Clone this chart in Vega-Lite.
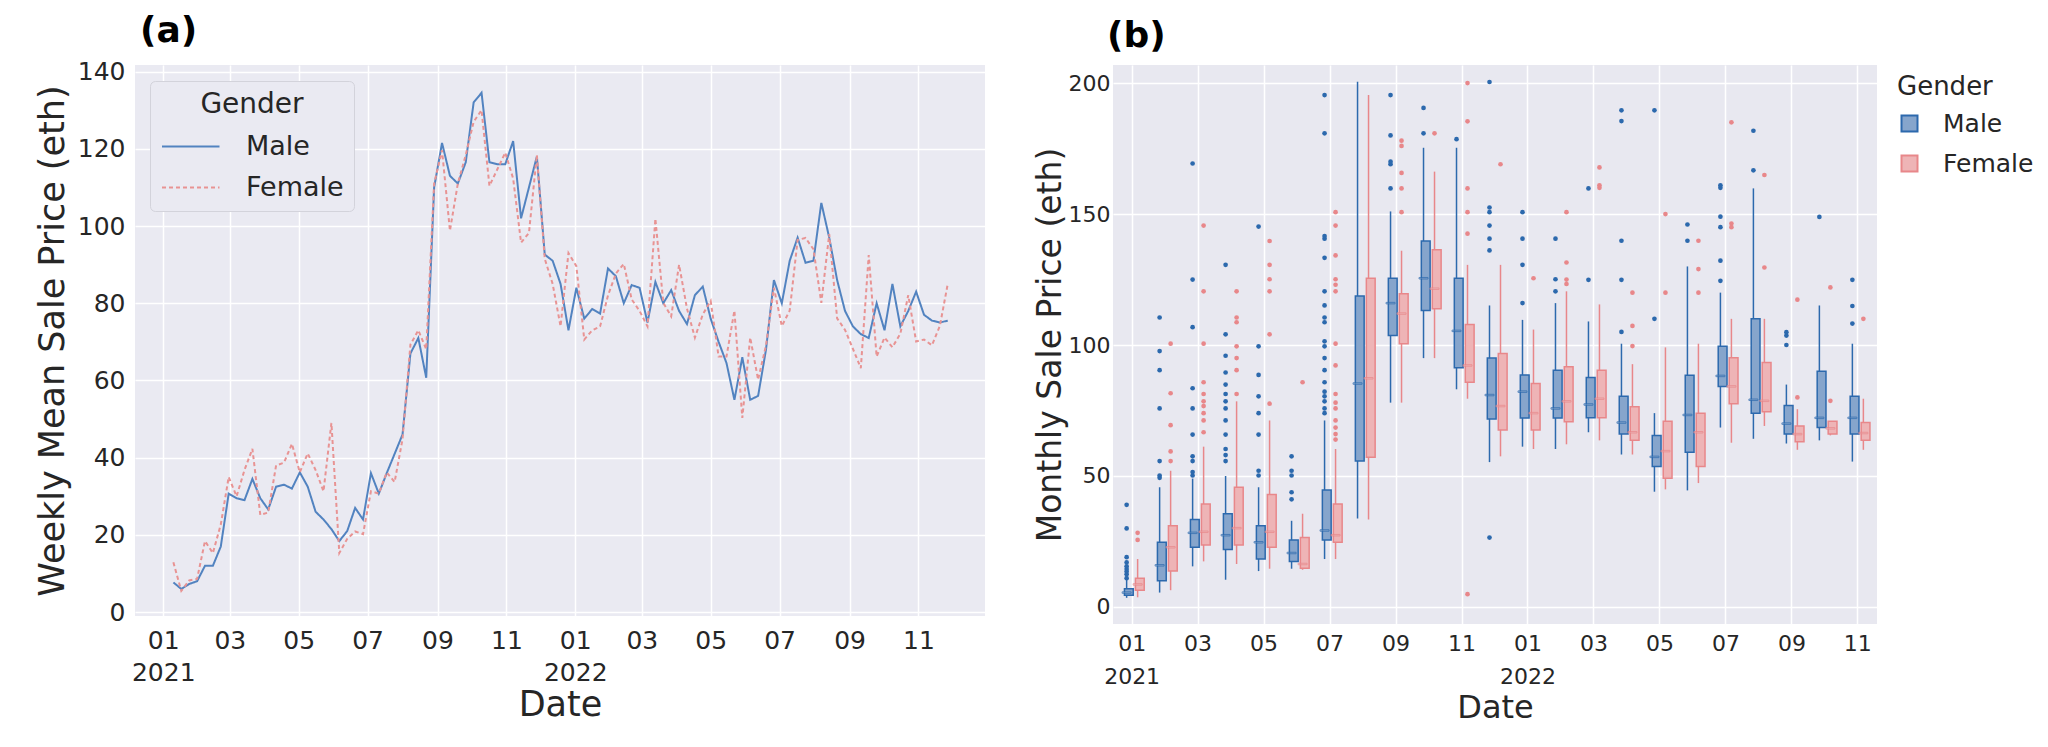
{
  "$schema": "https://vega.github.io/schema/vega-lite/v6.json",
  "background": "white",
  "padding": {"left": 35, "top": 12, "right": 0, "bottom": 16},
  "config": {
    "font": "DejaVu Sans",
    "view": {"stroke": null},
    "axis": {"domain": false, "ticks": false, "tickSize": 0, "gridColor": "white", "gridWidth": 1.5, "labelColor": "#262626", "titleColor": "#262626", "titleFontWeight": "normal"},
    "title": {"color": "black"}
  },
  "datasets": {
    "weekly": [
      {"date":"2021-01-10","Male":7.7,"Female":12.9},
      {"date":"2021-01-17","Male":6,"Female":5.5},
      {"date":"2021-01-24","Male":7.3,"Female":8.2},
      {"date":"2021-01-31","Male":8,"Female":8.6},
      {"date":"2021-02-07","Male":12,"Female":18.4},
      {"date":"2021-02-14","Male":12,"Female":15.3},
      {"date":"2021-02-21","Male":17,"Female":22.7},
      {"date":"2021-02-28","Male":30.7,"Female":35},
      {"date":"2021-03-07","Male":29.5,"Female":30},
      {"date":"2021-03-14","Male":29,"Female":36.8},
      {"date":"2021-03-21","Male":34.5,"Female":42.3},
      {"date":"2021-03-28","Male":29.5,"Female":25.2},
      {"date":"2021-04-04","Male":26.6,"Female":25.8},
      {"date":"2021-04-11","Male":32.5,"Female":38},
      {"date":"2021-04-18","Male":33,"Female":38.7},
      {"date":"2021-04-25","Male":32,"Female":43.6},
      {"date":"2021-05-02","Male":36.2,"Female":36.2},
      {"date":"2021-05-09","Male":32.5,"Female":41.1},
      {"date":"2021-05-16","Male":26,"Female":36.8},
      {"date":"2021-05-23","Male":24,"Female":31.3},
      {"date":"2021-05-30","Male":21.5,"Female":49},
      {"date":"2021-06-06","Male":18.4,"Female":15.3},
      {"date":"2021-06-13","Male":21,"Female":19},
      {"date":"2021-06-20","Male":27,"Female":20.9},
      {"date":"2021-06-27","Male":24,"Female":20.2},
      {"date":"2021-07-04","Male":36,"Female":31.3},
      {"date":"2021-07-11","Male":30.7,"Female":30.7},
      {"date":"2021-07-18","Male":36,"Female":36.2},
      {"date":"2021-07-25","Male":41,"Female":33.7},
      {"date":"2021-08-01","Male":46,"Female":44.8},
      {"date":"2021-08-08","Male":67,"Female":69.3},
      {"date":"2021-08-15","Male":71,"Female":73},
      {"date":"2021-08-22","Male":60.7,"Female":68.1},
      {"date":"2021-08-29","Male":110,"Female":111},
      {"date":"2021-09-05","Male":121.5,"Female":119.6},
      {"date":"2021-09-12","Male":113,"Female":98.8},
      {"date":"2021-09-19","Male":111,"Female":111},
      {"date":"2021-09-26","Male":116.5,"Female":118.4},
      {"date":"2021-10-03","Male":132,"Female":127},
      {"date":"2021-10-10","Male":134.5,"Female":130},
      {"date":"2021-10-17","Male":116.5,"Female":110.4},
      {"date":"2021-10-24","Male":116,"Female":114.7},
      {"date":"2021-10-31","Male":116,"Female":119},
      {"date":"2021-11-07","Male":122,"Female":112.3},
      {"date":"2021-11-14","Male":102,"Female":95.7},
      {"date":"2021-11-21","Male":110,"Female":98.2},
      {"date":"2021-11-28","Male":118,"Female":118.4},
      {"date":"2021-12-05","Male":92.6,"Female":91.5},
      {"date":"2021-12-12","Male":91,"Female":85},
      {"date":"2021-12-19","Male":85,"Female":74},
      {"date":"2021-12-26","Male":73,"Female":93},
      {"date":"2022-01-02","Male":84,"Female":89.6},
      {"date":"2022-01-09","Male":76,"Female":70.6},
      {"date":"2022-01-16","Male":78.5,"Female":73},
      {"date":"2022-01-23","Male":77.3,"Female":74},
      {"date":"2022-01-30","Male":89,"Female":82},
      {"date":"2022-02-06","Male":87,"Female":87.7},
      {"date":"2022-02-13","Male":80,"Female":90.2},
      {"date":"2022-02-20","Male":84.7,"Female":81},
      {"date":"2022-02-27","Male":84,"Female":78},
      {"date":"2022-03-06","Male":75,"Female":74},
      {"date":"2022-03-13","Male":85.5,"Female":101.9},
      {"date":"2022-03-20","Male":80,"Female":80.1},
      {"date":"2022-03-27","Male":83.4,"Female":76.6},
      {"date":"2022-04-03","Male":78,"Female":90},
      {"date":"2022-04-10","Male":74.6,"Female":78.6},
      {"date":"2022-04-17","Male":82.1,"Female":71.1},
      {"date":"2022-04-24","Male":84.3,"Female":77.1},
      {"date":"2022-05-01","Male":76,"Female":80.6},
      {"date":"2022-05-08","Male":70,"Female":66.2},
      {"date":"2022-05-15","Male":64.5,"Female":66.2},
      {"date":"2022-05-22","Male":55,"Female":78.1},
      {"date":"2022-05-29","Male":66,"Female":50.3},
      {"date":"2022-06-05","Male":55,"Female":71.1},
      {"date":"2022-06-12","Male":56,"Female":60.2},
      {"date":"2022-06-19","Male":68,"Female":69.1},
      {"date":"2022-06-26","Male":86,"Female":84},
      {"date":"2022-07-03","Male":80,"Female":74.1},
      {"date":"2022-07-10","Male":91,"Female":78.1},
      {"date":"2022-07-17","Male":97,"Female":96.4},
      {"date":"2022-07-24","Male":90.5,"Female":96.9},
      {"date":"2022-07-31","Male":91,"Female":94},
      {"date":"2022-08-07","Male":106,"Female":80.1},
      {"date":"2022-08-14","Male":97,"Female":97.9},
      {"date":"2022-08-21","Male":86,"Female":76.1},
      {"date":"2022-08-28","Male":78,"Female":73.1},
      {"date":"2022-09-04","Male":74,"Female":68.2},
      {"date":"2022-09-11","Male":72,"Female":63.2},
      {"date":"2022-09-18","Male":71,"Female":92.5},
      {"date":"2022-09-25","Male":80,"Female":66.2},
      {"date":"2022-10-02","Male":73,"Female":71.1},
      {"date":"2022-10-09","Male":85,"Female":68.6},
      {"date":"2022-10-16","Male":74,"Female":72.1},
      {"date":"2022-10-23","Male":78,"Female":82.1},
      {"date":"2022-10-30","Male":83,"Female":70.1},
      {"date":"2022-11-06","Male":77,"Female":70.6},
      {"date":"2022-11-13","Male":75.5,"Female":69.1},
      {"date":"2022-11-20","Male":75,"Female":74.1},
      {"date":"2022-11-27","Male":75.5,"Female":85}
    ],
    "boxes": [
      {"month":"2021-01","gender":"Male","lo":3.5,"q1":4.5,"med":5.5,"q3":7,"hi":10.5},
      {"month":"2021-01","gender":"Female","lo":3.7,"q1":6.4,"med":8.6,"q3":11,"hi":18.3},
      {"month":"2021-02","gender":"Male","lo":5.5,"q1":10,"med":15.9,"q3":24.7,"hi":45.7},
      {"month":"2021-02","gender":"Female","lo":6.4,"q1":13.7,"med":22.8,"q3":31,"hi":52},
      {"month":"2021-03","gender":"Male","lo":15.5,"q1":22.8,"med":28.3,"q3":33.4,"hi":49},
      {"month":"2021-03","gender":"Female","lo":17.4,"q1":23.7,"med":28.7,"q3":39.3,"hi":61.2},
      {"month":"2021-04","gender":"Male","lo":10.4,"q1":21.9,"med":27.4,"q3":35.6,"hi":50},
      {"month":"2021-04","gender":"Female","lo":16.4,"q1":23.7,"med":30.1,"q3":45.7,"hi":78.5},
      {"month":"2021-05","gender":"Male","lo":13.7,"q1":18.3,"med":24.7,"q3":31,"hi":45.7},
      {"month":"2021-05","gender":"Female","lo":14.6,"q1":22.8,"med":28.7,"q3":42.9,"hi":71.2},
      {"month":"2021-06","gender":"Male","lo":14.6,"q1":17.4,"med":20.6,"q3":25.6,"hi":32.9},
      {"month":"2021-06","gender":"Female","lo":14.2,"q1":14.8,"med":16.4,"q3":26.5,"hi":35.6},
      {"month":"2021-07","gender":"Male","lo":18.3,"q1":25.6,"med":29.2,"q3":44.7,"hi":71.2},
      {"month":"2021-07","gender":"Female","lo":18.3,"q1":24.7,"med":27.4,"q3":39.3,"hi":60.3},
      {"month":"2021-08","gender":"Male","lo":33.8,"q1":55.7,"med":85.3,"q3":118.7,"hi":200.5},
      {"month":"2021-08","gender":"Female","lo":33.4,"q1":57.2,"med":87.3,"q3":125.5,"hi":195.4},
      {"month":"2021-09","gender":"Male","lo":78,"q1":103.6,"med":116,"q3":125.5,"hi":151},
      {"month":"2021-09","gender":"Female","lo":78,"q1":100.5,"med":112,"q3":119.6,"hi":136},
      {"month":"2021-10","gender":"Male","lo":95,"q1":113.2,"med":125.5,"q3":139.7,"hi":175.3},
      {"month":"2021-10","gender":"Female","lo":95,"q1":113.8,"med":121.5,"q3":136.4,"hi":166.2},
      {"month":"2021-11","gender":"Male","lo":83.1,"q1":91.3,"med":105.4,"q3":125.5,"hi":175.3},
      {"month":"2021-11","gender":"Female","lo":79.5,"q1":85.8,"med":92.2,"q3":107.8,"hi":130.6},
      {"month":"2021-12","gender":"Male","lo":55.3,"q1":71.8,"med":80.9,"q3":95,"hi":115.1},
      {"month":"2021-12","gender":"Female","lo":57.5,"q1":67.6,"med":76.7,"q3":96.8,"hi":130.6},
      {"month":"2022-01","gender":"Male","lo":61.2,"q1":72.1,"med":82.2,"q3":88.6,"hi":109.6},
      {"month":"2022-01","gender":"Female","lo":60.3,"q1":67.6,"med":74,"q3":85.3,"hi":105.9},
      {"month":"2022-02","gender":"Male","lo":60.3,"q1":72.1,"med":75.8,"q3":90.4,"hi":116},
      {"month":"2022-02","gender":"Female","lo":62.1,"q1":70.7,"med":78.5,"q3":91.7,"hi":120.5},
      {"month":"2022-03","gender":"Male","lo":66.7,"q1":72.2,"med":77.3,"q3":87.6,"hi":109},
      {"month":"2022-03","gender":"Female","lo":63.6,"q1":72.2,"med":79.5,"q3":90.4,"hi":115.5},
      {"month":"2022-04","gender":"Male","lo":58.2,"q1":66,"med":70.4,"q3":80.4,"hi":100.5},
      {"month":"2022-04","gender":"Female","lo":58.2,"q1":63.6,"med":66.7,"q3":76.4,"hi":92.7},
      {"month":"2022-05","gender":"Male","lo":44,"q1":53.6,"med":57.3,"q3":65.5,"hi":74},
      {"month":"2022-05","gender":"Female","lo":44.9,"q1":49.1,"med":59.5,"q3":70.9,"hi":99.1},
      {"month":"2022-06","gender":"Male","lo":44.5,"q1":59.1,"med":73.3,"q3":88.5,"hi":130},
      {"month":"2022-06","gender":"Female","lo":47.3,"q1":53.6,"med":66.7,"q3":74,"hi":100.5},
      {"month":"2022-07","gender":"Male","lo":68.5,"q1":84.2,"med":88.2,"q3":99.5,"hi":120},
      {"month":"2022-07","gender":"Female","lo":62.7,"q1":77.6,"med":84.2,"q3":95.1,"hi":110},
      {"month":"2022-08","gender":"Male","lo":64.2,"q1":74,"med":79.1,"q3":110,"hi":159.8},
      {"month":"2022-08","gender":"Female","lo":69.1,"q1":74.5,"med":78.7,"q3":93.3,"hi":110},
      {"month":"2022-09","gender":"Male","lo":62.4,"q1":66,"med":70,"q3":76.9,"hi":84.9},
      {"month":"2022-09","gender":"Female","lo":60,"q1":63.1,"med":66,"q3":69.1,"hi":75.5},
      {"month":"2022-10","gender":"Male","lo":63.6,"q1":68.5,"med":72.2,"q3":90,"hi":115.1},
      {"month":"2022-10","gender":"Female","lo":65.5,"q1":66,"med":68.2,"q3":70.9,"hi":71},
      {"month":"2022-11","gender":"Male","lo":55.5,"q1":66,"med":72.2,"q3":80.4,"hi":100.5},
      {"month":"2022-11","gender":"Female","lo":60,"q1":63.6,"med":66.4,"q3":70.4,"hi":79.5}
    ],
    "outliers": [
      {"month":"2021-01","gender":"Male","v":[11,12.5,13.5,14.5,15.5,17,19,30,39]},
      {"month":"2021-01","gender":"Female","v":[25.6,28.3]},
      {"month":"2021-02","gender":"Male","v":[49.3,50.2,55.7,75.8,90.4,97.7,110.5]},
      {"month":"2021-02","gender":"Female","v":[55.7,59.4,69.4,81.6,100.5]},
      {"month":"2021-03","gender":"Male","v":[50.2,51.5,55.7,57.5,65.8,75.8,83.5,106.8,125,169.3]},
      {"month":"2021-03","gender":"Female","v":[66.7,71.2,74,76.7,78.5,81.3,85.8,100.5,120.5,145.6]},
      {"month":"2021-04","gender":"Male","v":[55.7,58,60.3,65.8,71.2,75.8,78.5,81.3,84.9,89.5,95.9,104.1,130.6]},
      {"month":"2021-04","gender":"Female","v":[81.3,90.4,95,99.5,108.7,110.5,120.5]},
      {"month":"2021-05","gender":"Male","v":[50.2,52,65.8,74,80.4,88.6,99.5,145.2]},
      {"month":"2021-05","gender":"Female","v":[77.6,104.1,120.5,125.1,130.6,139.7]},
      {"month":"2021-06","gender":"Male","v":[41.1,43.8,50.2,52,57.5]},
      {"month":"2021-06","gender":"Female","v":[85.8]},
      {"month":"2021-07","gender":"Male","v":[74,75.8,78.5,80.4,82.2,85.8,90.4,95,99.5,101.4,108.7,110.5,115.1,120.5,133.3,140.6,141.6,180.8,195.4]},
      {"month":"2021-07","gender":"Female","v":[63.9,66,68.5,71.2,75.8,78,81.3,92.2,100.5,120.5,123,125.1,134.2,145.6,150.7]},
      {"month":"2021-09","gender":"Male","v":[159.8,169,170,180,195.4]},
      {"month":"2021-09","gender":"Female","v":[150.7,159.8,165.7,176,178]},
      {"month":"2021-10","gender":"Male","v":[180.8,190.5]},
      {"month":"2021-10","gender":"Female","v":[180.8]},
      {"month":"2021-11","gender":"Male","v":[178.6]},
      {"month":"2021-11","gender":"Female","v":[4.9,142.5,150.7,159.8,185.4,200]},
      {"month":"2021-12","gender":"Male","v":[26.5,136.1,140.6,145.6,150.7,152.5,200.4]},
      {"month":"2021-12","gender":"Female","v":[169]},
      {"month":"2022-01","gender":"Male","v":[116,130.6,140.6,150.7]},
      {"month":"2022-01","gender":"Female","v":[125.5]},
      {"month":"2022-02","gender":"Male","v":[120.5,125.1,140.6]},
      {"month":"2022-02","gender":"Female","v":[123.3,125,131.5,150.7]},
      {"month":"2022-03","gender":"Male","v":[124.9,159.8]},
      {"month":"2022-03","gender":"Female","v":[160,161,167.8]},
      {"month":"2022-04","gender":"Male","v":[105,124.9,139.8,185.5,189.6]},
      {"month":"2022-04","gender":"Female","v":[99.6,107.3,120]},
      {"month":"2022-05","gender":"Male","v":[110,189.6]},
      {"month":"2022-05","gender":"Female","v":[120,150]},
      {"month":"2022-06","gender":"Male","v":[139.8,146]},
      {"month":"2022-06","gender":"Female","v":[120,129,139.8]},
      {"month":"2022-07","gender":"Male","v":[124.5,132.2,145,149,160,161]},
      {"month":"2022-07","gender":"Female","v":[145,146.4,185]},
      {"month":"2022-08","gender":"Male","v":[166.7,181.8]},
      {"month":"2022-08","gender":"Female","v":[129.6,164.9]},
      {"month":"2022-09","gender":"Male","v":[100,103.6,104.9]},
      {"month":"2022-09","gender":"Female","v":[80,117.3]},
      {"month":"2022-10","gender":"Male","v":[148.9]},
      {"month":"2022-10","gender":"Female","v":[78.7,122]},
      {"month":"2022-11","gender":"Male","v":[108.2,114.9,124.9]},
      {"month":"2022-11","gender":"Female","v":[110]}
    ]
  },
  "spacing": 49,
  "resolve": {
    "scale": {"x": "independent", "y": "independent", "color": "independent", "strokeDash": "independent", "fill": "independent", "stroke": "independent"},
    "legend": {"color": "independent", "strokeDash": "independent", "fill": "independent", "stroke": "independent"}
  },
  "hconcat": [
    {
      "width": 850,
      "height": 551,
      "view": {"fill": "#eaeaf2", "stroke": null},
      "title": {"text": "(a)", "anchor": "start", "frame": "group", "fontSize": 36, "fontWeight": "bold", "dx": 5, "offset": 10, "color": "black"},
      "data": {"name": "weekly"},
      "transform": [{"fold": ["Male", "Female"], "as": ["gender", "price"]}],
      "mark": {"type": "line", "strokeWidth": 2, "clip": true},
      "encoding": {
        "x": {
          "field": "date", "type": "temporal",
          "scale": {"type": "utc", "domain": [{"year": 2020, "month": 12, "date": 7, "utc": true}, {"year": 2022, "month": 12, "date": 30, "utc": true}]},
          "axis": {
            "title": "Date", "titleFontSize": 35, "titlePadding": 2,
            "labelFontSize": 25, "labelPadding": 12, "labelLineHeight": 32, "labelAngle": 0,
            "grid": true,
            "values": [
              {"year": 2021, "month": 1, "date": 1, "utc": true},
              {"year": 2021, "month": 3, "date": 1, "utc": true},
              {"year": 2021, "month": 5, "date": 1, "utc": true},
              {"year": 2021, "month": 7, "date": 1, "utc": true},
              {"year": 2021, "month": 9, "date": 1, "utc": true},
              {"year": 2021, "month": 11, "date": 1, "utc": true},
              {"year": 2022, "month": 1, "date": 1, "utc": true},
              {"year": 2022, "month": 3, "date": 1, "utc": true},
              {"year": 2022, "month": 5, "date": 1, "utc": true},
              {"year": 2022, "month": 7, "date": 1, "utc": true},
              {"year": 2022, "month": 9, "date": 1, "utc": true},
              {"year": 2022, "month": 11, "date": 1, "utc": true}
            ],
            "labelExpr": "utcmonth(datum.value) == 0 ? [utcFormat(datum.value, '%m'), utcFormat(datum.value, '%Y')] : utcFormat(datum.value, '%m')"
          }
        },
        "y": {
          "field": "price", "type": "quantitative",
          "scale": {"domain": [-1, 141.7], "nice": false, "zero": false},
          "axis": {"title": "Weekly Mean Sale Price (eth)", "titleFontSize": 35, "titlePadding": 7, "labelFontSize": 25, "labelPadding": 10, "values": [0, 20, 40, 60, 80, 100, 120, 140]}
        },
        "color": {
          "field": "gender", "type": "nominal",
          "scale": {"domain": ["Male", "Female"], "range": ["#5283c0", "#e89393"]},
          "legend": {
            "orient": "none", "legendX": 15, "legendY": 16, "title": "Gender",
            "titleFontSize": 28, "titleFontWeight": "normal", "titleAnchor": "middle", "titlePadding": 14,
            "labelFontSize": 27, "symbolType": "M-1,0H4", "symbolSize": 529, "symbolStrokeWidth": 2,
            "labelOffset": 59, "rowPadding": 13, "padding": 10,
            "fillColor": "#eaeaf2", "strokeColor": "#d3d3db", "cornerRadius": 5,
            "labelColor": "#262626", "titleColor": "#262626"
          }
        },
        "strokeDash": {
          "field": "gender", "type": "nominal",
          "scale": {"domain": ["Male", "Female"], "range": [[1, 0], [4, 3]]},
          "legend": {
            "orient": "none", "legendX": 15, "legendY": 16, "title": "Gender",
            "titleFontSize": 28, "titleFontWeight": "normal", "titleAnchor": "middle", "titlePadding": 14,
            "labelFontSize": 27, "symbolType": "M-1,0H4", "symbolSize": 529, "symbolStrokeWidth": 2,
            "labelOffset": 59, "rowPadding": 13, "padding": 10,
            "fillColor": "#eaeaf2", "strokeColor": "#d3d3db", "cornerRadius": 5,
            "labelColor": "#262626", "titleColor": "#262626"
          }
        },
        "strokeWidth": {
          "field": "gender", "type": "nominal",
          "scale": {"domain": ["Male", "Female"], "range": [2, 1.6]},
          "legend": null
        }
      }
    },
    {
      "width": 764,
      "height": 559,
      "view": {"fill": "#e8e8f0", "stroke": null},
      "title": {"text": "(b)", "anchor": "start", "frame": "group", "fontSize": 36, "fontWeight": "bold", "dx": -6, "offset": 10, "color": "black"},
      "encoding": {
        "x": {
          "field": "month", "type": "ordinal",
          "scale": {"type": "band", "domain": ["2021-01","2021-02","2021-03","2021-04","2021-05","2021-06","2021-07","2021-08","2021-09","2021-10","2021-11","2021-12","2022-01","2022-02","2022-03","2022-04","2022-05","2022-06","2022-07","2022-08","2022-09","2022-10","2022-11"], "paddingInner": 0, "paddingOuter": 0.08},
          "axis": {
            "title": "Date", "titleFontSize": 32, "titlePadding": 5,
            "labelFontSize": 22, "labelPadding": 9, "labelLineHeight": 33, "labelAngle": 0,
            "grid": true, "bandPosition": 0.5,
            "values": ["2021-01","2021-03","2021-05","2021-07","2021-09","2021-11","2022-01","2022-03","2022-05","2022-07","2022-09","2022-11"],
            "labelExpr": "substring(datum.value, 5, 7) == '01' ? [substring(datum.value, 5, 7), substring(datum.value, 0, 4)] : substring(datum.value, 5, 7)"
          }
        },
        "xOffset": {"field": "gender", "type": "nominal", "scale": {"domain": ["Male", "Female"], "paddingInner": 0, "paddingOuter": 0.5}}
      },
      "layer": [
        {
          "data": {"name": "boxes"},
          "mark": {"type": "rule", "strokeWidth": 1.5},
          "encoding": {
            "y": {
              "field": "lo", "type": "quantitative",
              "scale": {"domain": [-6.5, 206.9], "nice": false, "zero": false},
              "axis": {"title": "Monthly Sale Price (eth)", "titleFontSize": 33, "titlePadding": 1, "labelFontSize": 22, "labelPadding": 3, "values": [0, 50, 100, 150, 200]}
            },
            "y2": {"field": "hi"},
            "stroke": {"field": "gender", "type": "nominal", "scale": {"domain": ["Male", "Female"], "range": ["#2c69ad", "#e8878a"]},
              "legend": {"orient": "none", "legendX": 784, "legendY": 9, "title": "Gender", "titleFontSize": 26, "titleFontWeight": "normal", "titlePadding": 11, "labelFontSize": 25, "symbolType": "square", "symbolSize": 256, "symbolStrokeWidth": 2, "symbolOffset": 0, "labelOffset": 21, "rowPadding": 14, "padding": 0, "labelColor": "#262626", "titleColor": "#262626"}}
          }
        },
        {
          "data": {"name": "boxes"},
          "mark": {"type": "bar", "strokeWidth": 1.5, "width": {"band": 0.8}},
          "encoding": {
            "y": {"field": "q1", "type": "quantitative"},
            "y2": {"field": "q3"},
            "fill": {"field": "gender", "type": "nominal", "scale": {"domain": ["Male", "Female"], "range": ["#86a5cc", "#eeb4b6"]},
              "legend": {"orient": "none", "legendX": 784, "legendY": 9, "title": "Gender", "titleFontSize": 26, "titleFontWeight": "normal", "titlePadding": 11, "labelFontSize": 25, "symbolType": "square", "symbolSize": 256, "symbolStrokeWidth": 2, "symbolOffset": 0, "labelOffset": 21, "rowPadding": 14, "padding": 0, "labelColor": "#262626", "titleColor": "#262626"}},
            "stroke": {"field": "gender", "type": "nominal"}
          }
        },
        {
          "data": {"name": "boxes"},
          "mark": {"type": "tick", "thickness": 1.5, "size": 9},
          "encoding": {
            "y": {"field": "med", "type": "quantitative"},
            "stroke": {"field": "gender", "type": "nominal"},
            "fill": {"field": "gender", "type": "nominal"}
          }
        },
        {
          "data": {"name": "outliers"},
          "transform": [{"flatten": ["v"], "as": ["price"]}],
          "mark": {"type": "point", "filled": true, "size": 22, "opacity": 1},
          "encoding": {
            "y": {"field": "price", "type": "quantitative"},
            "color": {"field": "gender", "type": "nominal", "scale": {"domain": ["Male", "Female"], "range": ["#2c69ad", "#e8878a"]}, "legend": null}
          }
        }
      ]
    }
  ]
}
